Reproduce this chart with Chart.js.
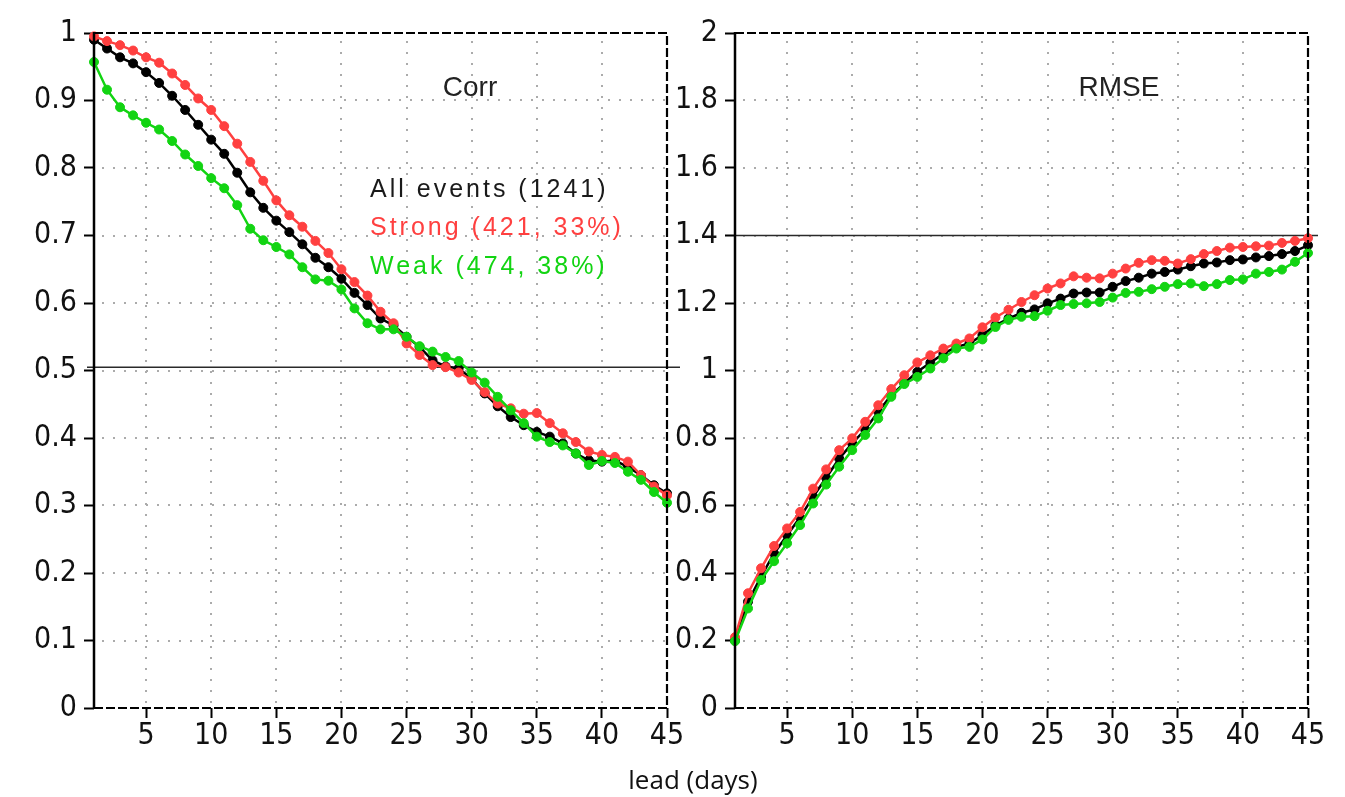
<!DOCTYPE html>
<html>
<head>
<meta charset="utf-8">
<script src="https://cdn.jsdelivr.net/npm/chart.js@4.4.1/dist/chart.umd.min.js"></script>
<style>
  html, body { margin: 0; padding: 0; background: #ffffff; }
  body { width: 1345px; height: 797px; position: relative; overflow: hidden; }
  #wrap1 { position: absolute; left: 0; top: 0; width: 690px; height: 797px; }
  #wrap2 { position: absolute; left: 670px; top: 0; width: 675px; height: 797px; }
  #xtitle { position: absolute; left: 593px; width: 200px; top: 766px; text-align: center;
            font-family: "Open Sans", "Noto Sans", sans-serif; font-size: 26px; line-height: 26px; color: #111; }
</style>
</head>
<body>
<div id="wrap1"><canvas id="c1" width="690" height="797"></canvas></div>
<div id="wrap2"><canvas id="c2" width="675" height="797"></canvas></div>
<div id="xtitle"></div>
<script>
// ---------------- DATA ----------------
const leadDays = [1,2,3,4,5,6,7,8,9,10,11,12,13,14,15,16,17,18,19,20,21,22,23,24,25,26,27,28,29,30,31,32,33,34,35,36,37,38,39,40,41,42,43,44,45];

const corrAll = [0.990,0.977,0.964,0.955,0.942,0.926,0.907,0.886,0.864,0.842,
                 0.821,0.793,0.764,0.741,0.722,0.705,0.687,0.667,0.653,0.636,
                 0.615,0.597,0.577,0.567,0.550,0.535,0.515,0.506,0.503,0.488,
                 0.466,0.447,0.431,0.419,0.409,0.402,0.392,0.377,0.367,0.365,
                 0.367,0.357,0.345,0.330,0.318];
const corrStrong = [0.995,0.988,0.982,0.974,0.964,0.956,0.940,0.923,0.903,0.886,
                    0.862,0.836,0.809,0.781,0.752,0.730,0.713,0.692,0.674,0.650,
                    0.631,0.611,0.587,0.570,0.540,0.523,0.508,0.505,0.497,0.486,
                    0.468,0.451,0.444,0.436,0.437,0.422,0.407,0.394,0.380,0.375,
                    0.372,0.365,0.345,0.328,0.315];
const corrWeak = [0.957,0.916,0.890,0.878,0.867,0.857,0.840,0.820,0.803,0.785,
                  0.770,0.745,0.710,0.693,0.683,0.672,0.653,0.635,0.633,0.620,
                  0.592,0.570,0.561,0.561,0.550,0.536,0.528,0.520,0.514,0.497,
                  0.482,0.461,0.441,0.422,0.402,0.394,0.389,0.377,0.360,0.366,
                  0.363,0.350,0.338,0.320,0.304];

const rmseAll = [0.200,0.315,0.389,0.458,0.512,0.565,0.626,0.682,0.739,0.784,
                 0.825,0.878,0.927,0.962,0.996,1.023,1.050,1.070,1.080,1.105,
                 1.134,1.154,1.171,1.181,1.199,1.213,1.228,1.231,1.231,1.248,
                 1.265,1.275,1.287,1.292,1.299,1.309,1.317,1.320,1.327,1.329,
                 1.335,1.339,1.345,1.354,1.371];
const rmseStrong = [0.210,0.340,0.414,0.480,0.532,0.581,0.650,0.707,0.764,0.799,
                    0.848,0.897,0.945,0.986,1.024,1.045,1.065,1.080,1.095,1.128,
                    1.157,1.180,1.203,1.223,1.243,1.258,1.279,1.275,1.273,1.287,
                    1.302,1.319,1.327,1.325,1.317,1.330,1.345,1.354,1.364,1.366,
                    1.368,1.370,1.378,1.384,1.392];
const rmseWeak = [0.198,0.295,0.379,0.435,0.488,0.542,0.606,0.662,0.715,0.764,
                  0.809,0.858,0.922,0.960,0.981,1.006,1.036,1.065,1.070,1.092,
                  1.129,1.150,1.159,1.161,1.177,1.194,1.197,1.199,1.203,1.216,
                  1.230,1.233,1.241,1.248,1.256,1.258,1.250,1.256,1.268,1.270,
                  1.287,1.292,1.299,1.322,1.348];

const xTickValues = [5,10,15,20,25,30,35,40,45];
const xTickLabels = ['5','10','15','20','25','30','35','40','45'];
const corrTickValues = [0,0.1,0.2,0.3,0.4,0.5,0.6,0.7,0.8,0.9,1];
const corrTickLabels = ['0','0.1','0.2','0.3','0.4','0.5','0.6','0.7','0.8','0.9','1'];
const rmseTickValues = [0,0.2,0.4,0.6,0.8,1,1.2,1.4,1.6,1.8,2];
const rmseTickLabels = ['0','0.2','0.4','0.6','0.8','1','1.2','1.4','1.6','1.8','2'];
const corrRefValue = 0.505;
const rmseRefValue = 1.4;
const seriesNames = ['All events (1241)', 'Strong (421, 33%)', 'Weak (474, 38%)'];
const panelTitles = ['Corr', 'RMSE'];
const xAxisTitle = 'lead (days)';

// ---------------- STYLE ----------------
const COL_ALL = '#000000';
const COL_STRONG = '#ff4040';
const COL_WEAK = '#12d412';
const TICK_FONT = { family: '"Liberation Sans Narrow", "DejaVu Sans Condensed", "Liberation Sans", sans-serif', size: 30, lineHeight: 1.2 };

document.getElementById('xtitle').textContent = xAxisTitle;

function pts(arr) { return leadDays.map((d, i) => ({ x: d, y: arr[i] })); }

function ds(label, arr, color) {
  return {
    label, data: pts(arr),
    borderColor: color, backgroundColor: color,
    borderWidth: 2.5, pointRadius: 4.5, pointHoverRadius: 4.5,
    pointBorderWidth: 1, pointBorderColor: color, pointBackgroundColor: color,
    tension: 0, clip: 6
  };
}

const panelPlugin = {
  id: 'panelDecor',
  beforeDatasetsDraw(chart, args, o) {
    const { ctx, chartArea: a, scales: { x, y } } = chart;
    ctx.save();
    // dotted grid
    ctx.strokeStyle = '#ababab';
    ctx.lineWidth = 2;
    ctx.setLineDash([2, 9]);
    y.ticks.forEach(t => {
      if (t.value <= y.min || t.value >= y.max) return;
      const py = Math.round(y.getPixelForValue(t.value));
      ctx.beginPath(); ctx.moveTo(a.left + 8, py); ctx.lineTo(a.right, py); ctx.stroke();
    });
    x.ticks.forEach(t => {
      if (t.value >= x.max) return;
      const px = Math.round(x.getPixelForValue(t.value));
      ctx.beginPath(); ctx.moveTo(px, a.top + 8); ctx.lineTo(px, a.bottom); ctx.stroke();
    });
    // reference line
    ctx.setLineDash([]);
    ctx.strokeStyle = '#2a2a2a';
    ctx.lineWidth = 1.5;
    const ry = y.getPixelForValue(o.ref);
    ctx.beginPath(); ctx.moveTo(a.left - o.refLeft, ry); ctx.lineTo(a.right + o.refRight, ry); ctx.stroke();
    ctx.restore();
  },
  afterDatasetsDraw(chart, args, o) {
    const { ctx, chartArea: a } = chart;
    ctx.save();
    // frame: left solid, others dashed
    ctx.strokeStyle = '#000';
    ctx.lineWidth = 2.5;
    ctx.setLineDash([]);
    ctx.beginPath(); ctx.moveTo(a.left, a.top - 1); ctx.lineTo(a.left, a.bottom + 1); ctx.stroke();
    ctx.lineWidth = 2.2;
    ctx.setLineDash([9, 3]);
    ctx.beginPath(); ctx.moveTo(a.left, a.top); ctx.lineTo(a.right, a.top); ctx.lineTo(a.right, a.bottom); ctx.stroke();
    ctx.beginPath(); ctx.moveTo(a.left, a.bottom); ctx.lineTo(a.right, a.bottom); ctx.stroke();
    ctx.setLineDash([]);
    // title
    ctx.fillStyle = '#222';
    ctx.font = '28px "Liberation Sans", Arial, sans-serif';
    ctx.textAlign = 'center';
    ctx.textBaseline = 'middle';
    ctx.fillText(o.title, a.left + o.titleDx, 88);
    // legend
    if (o.legend) {
      ctx.font = '25px "Liberation Sans", Arial, sans-serif';
      ctx.textAlign = 'left';
      try { ctx.letterSpacing = '3px'; } catch (e) {}
      const cols = ['#1a1a1a', COL_STRONG, COL_WEAK];
      const ys = [190, 228, 267];
      seriesNames.forEach((s, i) => {
        ctx.fillStyle = cols[i];
        ctx.fillText(s, a.left + o.legendDx, ys[i]);
      });
    }
    ctx.restore();
  }
};

function makeChart(id, series, yMin, yMax, yVals, yLabels, yWidth, padRight, decor) {
  return new Chart(document.getElementById(id), {
    type: 'line',
    data: {
      datasets: [
        ds(seriesNames[2], series[2], COL_WEAK),
        ds(seriesNames[1], series[1], COL_STRONG),
        ds(seriesNames[0], series[0], COL_ALL)
      ]
    },
    options: {
      responsive: false,
      animation: false,
      events: [],
      layout: { padding: { left: 0, right: padRight, top: 33, bottom: 0 } },
      plugins: { legend: { display: false }, tooltip: { enabled: false }, panelDecor: decor },
      scales: {
        x: {
          type: 'linear', min: 1, max: 45,
          afterBuildTicks: s => { s.ticks = xTickValues.map(v => ({ value: v })); },
          afterFit: s => { s.height = 89; },
          ticks: { font: TICK_FONT, color: '#111', padding: 0, maxRotation: 0, autoSkip: false,
                   callback: (v, i) => xTickLabels[i] },
          grid: { display: true, drawOnChartArea: false, drawTicks: true, tickLength: 10, tickWidth: 2, tickColor: '#000' },
          border: { display: false }
        },
        y: {
          type: 'linear', min: yMin, max: yMax,
          afterBuildTicks: s => { s.ticks = yVals.map(v => ({ value: v })); },
          afterFit: s => { s.width = yWidth; },
          ticks: { font: TICK_FONT, color: '#111', padding: 7, autoSkip: false,
                   callback: (v, i) => yLabels[i] },
          grid: { display: true, drawOnChartArea: false, drawTicks: true, tickLength: 10, tickWidth: 2, tickColor: '#000' },
          border: { display: false }
        }
      }
    },
    plugins: [panelPlugin]
  });
}

makeChart('c1', [corrAll, corrStrong, corrWeak], 0, 1, corrTickValues, corrTickLabels, 94, 23,
  { ref: corrRefValue, refLeft: 7, refRight: 13, title: panelTitles[0], titleDx: 376, legend: true, legendDx: 276 });
makeChart('c2', [rmseAll, rmseStrong, rmseWeak], 0, 2, rmseTickValues, rmseTickLabels, 65, 37,
  { ref: rmseRefValue, refLeft: 0, refRight: 10, title: panelTitles[1], titleDx: 384, legend: false });
</script>
</body>
</html>
